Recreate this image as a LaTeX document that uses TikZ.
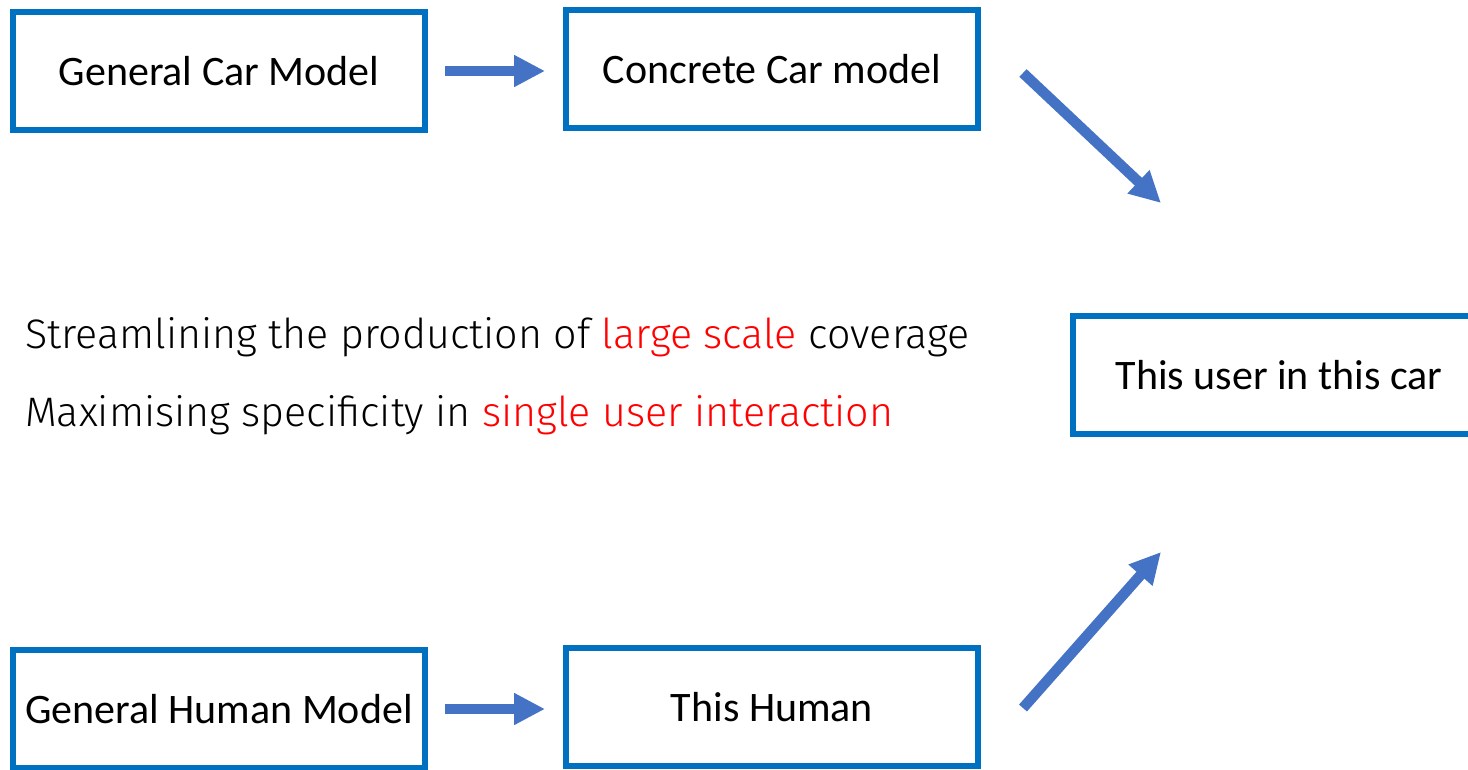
\documentclass[tikz,border=0pt]{standalone}
\usepackage{fontspec}
\setmainfont{Carlito}
\newfontfamily\lightfont{Fira Sans Light}
\usetikzlibrary{arrows.meta}
\definecolor{boxblue}{HTML}{0070C0}
\definecolor{arrowblue}{HTML}{4472C4}
\definecolor{hired}{HTML}{FF0000}
\tikzset{
  modelbox/.style={draw=boxblue, line width=6pt, minimum width=412pt, minimum height=118pt, inner sep=0pt, font=\fontsize{42}{50}\selectfont},
  blockarrow/.style={draw=arrowblue, line width=10.5pt, -{Triangle[width=30pt,length=31pt]}},
  midtext/.style={anchor=base west, inner sep=0pt, font=\lightfont\fontsize{41.2}{48}\selectfont}
}
\begin{document}
\begin{tikzpicture}[x=1pt,y=-1pt]
\useasboundingbox (0,0) rectangle (1468,769);
\clip (0,0) rectangle (1468,769);
\node[modelbox] (gcar) at (219,71) {General Car Model};
\node[modelbox] (ccar) at (772,69) {Concrete Car model};
\node[modelbox] (user) at (1279,375) {This user in this car};
\node[modelbox] (ghum) at (219,709) {General Human Model};
\node[modelbox] (thum) at (772,707) {This Human};
\node[midtext] (l1) at (25,348) {Streamlining the production of \textcolor{hired}{large scale} coverage};
\node[midtext] (l2) at (25,426) {Maximising specificity in \textcolor{hired}{single user interaction}};
\coordinate (d1s) at (1023,73);
\coordinate (d1e) at (1161,203);
\coordinate (d2s) at (1023,708);
\coordinate (d2e) at (1161,552);
\draw[blockarrow, shorten <=17pt, shorten >=18pt] (gcar.east) -- (ccar.west |- gcar.east);
\draw[blockarrow, shorten <=17pt, shorten >=18pt] (ghum.east) -- (thum.west |- ghum.east);
\draw[blockarrow] (d1s) -- (d1e);
\draw[blockarrow] (d2s) -- (d2e);
\end{tikzpicture}
\end{document}
